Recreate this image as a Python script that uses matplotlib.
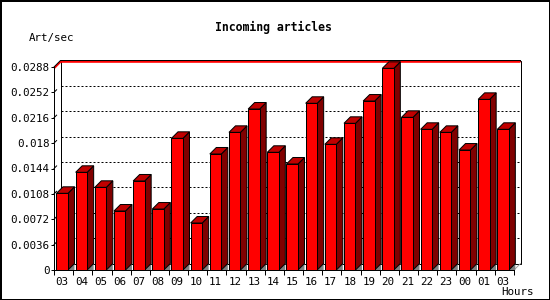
import matplotlib
matplotlib.use("Agg")
import matplotlib.pyplot as plt
from matplotlib.patches import Polygon, Rectangle

hours = ["03", "04", "05", "06", "07", "08", "09", "10", "11", "12", "13", "14",
         "15", "16", "17", "18", "19", "20", "21", "22", "23", "00", "01", "03"]
rates = [0.01088, 0.01386, 0.01173, 0.00837, 0.01263, 0.00865, 0.01868, 0.00667,
         0.01646, 0.01953, 0.02284, 0.01670, 0.01504, 0.02365, 0.01783, 0.02081,
         0.02397, 0.02861, 0.02166, 0.01996, 0.01953, 0.01702, 0.02421, 0.01996]
yticks = [0, 0.0036, 0.0072, 0.0108, 0.0144, 0.018, 0.0216, 0.0252, 0.0288]
ylabels = ["0", "0.0036", "0.0072", "0.0108", "0.0144", "0.018", "0.0216", "0.0252", "0.0288"]

FONT = "DejaVu Sans Mono"
W, H = 550, 300
PX = 0.72  # one pixel in points at dpi 100

fig = plt.figure(figsize=(5.5, 3), dpi=100)
fig.patch.set_facecolor("white")
ax = fig.add_axes([54 / W, 30 / H, 460 / W, 203 / H])
ax.set_facecolor("none")
n = len(rates)
ymax = yticks[-1]
ax.set_xlim(0, n)
ax.set_ylim(0, ymax)

# 3d depth, in data units (6.5 px each way)
depth_px = 6.5
dx = depth_px * n / 460
dy = depth_px * ymax / 203

# back wall
ax.add_patch(Rectangle((dx, dy), n, ymax, facecolor="white", edgecolor="black",
                       lw=PX, zorder=0, clip_on=False))
# red top edge
ax.plot([0, dx, n + dx], [ymax - dy * 0.2, ymax + dy * 0.8, ymax + dy * 0.8],
        color="red", lw=2 * PX, zorder=0.5, clip_on=False, solid_capstyle="butt")
ax.plot([0, dx, n + dx], [ymax, ymax + dy, ymax + dy], color="black", lw=PX,
        zorder=0.6, clip_on=False)
# right bottom slant
ax.plot([n, n + dx], [0, dy], color="#a0a0a0", lw=PX, zorder=0.6, clip_on=False)

# gridlines on back wall
for t in yticks[1:-1]:
    ax.plot([dx, n + dx], [t + dy, t + dy], color="black", lw=PX,
            linestyle=(0, (2, 2)), zorder=1, clip_on=False)
    ax.plot([0, dx * 0.4], [t, t + dy * 0.4], color="black", lw=PX, zorder=1,
            clip_on=False)

# bars
off, bw = 0.13, 0.6
for i, v in enumerate(rates):
    x0 = i + off
    x1 = x0 + bw
    ax.add_patch(Polygon([(x1, 0), (x1 + dx, dy), (x1 + dx, 0)], closed=True,
                         facecolor="#808080", edgecolor="none", zorder=2, clip_on=False))
    ax.add_patch(Polygon([(x1, 0), (x1 + dx, dy), (x1 + dx, v + dy), (x1, v)],
                         closed=True, facecolor="#800000", edgecolor="black",
                         lw=PX, zorder=3, clip_on=False))
    ax.add_patch(Polygon([(x0, v), (x0 + dx, v + dy), (x1 + dx, v + dy), (x1, v)],
                         closed=True, facecolor="#c00000", edgecolor="black",
                         lw=PX, zorder=3, clip_on=False))
    ax.add_patch(Rectangle((x0, 0), bw, v, facecolor="#ff0000", edgecolor="black",
                           lw=PX, zorder=4, clip_on=False))

# axes
for s in ["top", "right"]:
    ax.spines[s].set_visible(False)
for s in ["left", "bottom"]:
    ax.spines[s].set_linewidth(PX)
    ax.spines[s].set_zorder(5)

ax.set_yticks(yticks)
ax.set_yticklabels(ylabels, fontfamily=FONT, fontsize=7.8)
ax.tick_params(axis="y", length=3 * PX, width=PX, pad=1)

ax.set_xticks([i + off + bw / 2 for i in range(n)])
ax.set_xticklabels(hours, fontfamily=FONT, fontsize=7.8)
ax.set_xticks(range(n + 1), minor=True)
ax.tick_params(axis="x", which="major", length=0, pad=5)
ax.tick_params(axis="x", which="minor", length=5 * PX, width=PX)

fig.text(273 / W, 1 - 27 / H, "Incoming articles", fontfamily=FONT,
         fontweight="bold", fontsize=8.3, ha="center", va="center")
fig.text(29 / W, 1 - 38 / H, "Art/sec", fontfamily=FONT, fontsize=7.8,
         ha="left", va="center")
fig.text(534 / W, 1 - 292 / H, "Hours", fontfamily=FONT, fontsize=7.8,
         ha="right", va="center")

fig.patches.append(Rectangle((0, 0), 1, 1, transform=fig.transFigure, fill=False,
                             edgecolor="black", lw=3 * PX))

fig.savefig("out.png", dpi=100)
